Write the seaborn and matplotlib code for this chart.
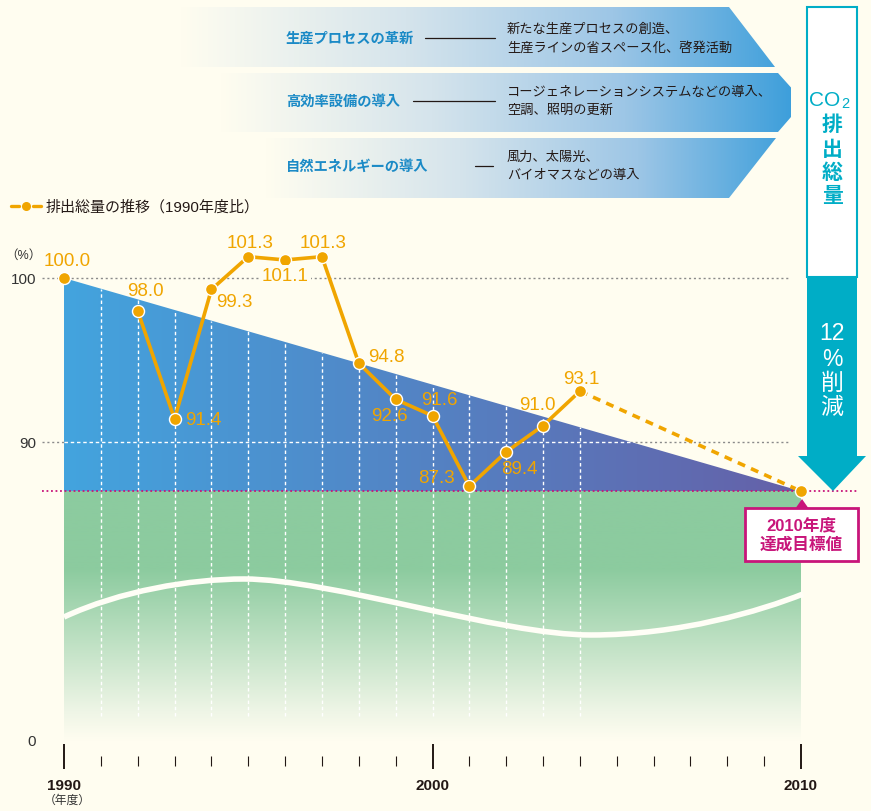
import numpy as np
import pandas as pd
import matplotlib
matplotlib.use('Agg')
import matplotlib.pyplot as plt
import seaborn as sns
from matplotlib.colors import LinearSegmentedColormap
from matplotlib.patches import Polygon, Rectangle, PathPatch
from matplotlib.path import Path

# CO2 emissions, 1990 = 100
years = [1990, 1991, 1992, 1993, 1994, 1995, 1996, 1997, 1998, 1999,
         2000, 2001, 2002, 2003, 2004]
emissions = [100.0, np.nan, 98.0, 91.4, 99.3, 101.3, 101.1, 101.3, 94.8, 92.6,
             91.6, 87.3, 89.4, 91.0, 93.1]
base_year, base_value = 1990, 100.0
target_year, target_value = 2010, 87.0
y_ticks = [90, 100]
x_major = [1990, 2000, 2010]

measures = ['生産プロセスの革新', '高効率設備の導入', '自然エネルギーの導入']
measure_notes = [
    ['新たな生産プロセスの創造、', '生産ラインの省スペース化、啓発活動'],
    ['コージェネレーションシステムなどの導入、', '空調、照明の更新'],
    ['風力、太陽光、', 'バイオマスなどの導入'],
]
legend_label = '排出総量の推移（1990年度比）'

# colours
CREAM = '#FFFDF0'
ORANGE = '#F0A500'
BLUE_L, BLUE_R = '#43A4DE', '#6560A8'
GREEN = '#8CCB9F'
MAGENTA = '#C8157A'
TEAL = '#00ADC6'
TEXT_BLUE = '#1B8AC6'
DARK = '#231815'

# label offsets in pixels (dx, dy up) for each point
label_offsets = [(3, 17), None, (8, 20), (29, 0), (23, -12), (2, 14), (0, -16),
                 (1, 14), (28, 7), (-6, -16), (7, 16), (-33, 9), (13, -17),
                 (-6, 21), (1, 13)]

sns.set_theme(style='white')
plt.rcParams['font.family'] = ['Liberation Sans', 'Noto Sans CJK JP', 'DejaVu Sans']

W, H = 871, 812
fig = plt.figure(figsize=(W / 100, H / 100), dpi=100, facecolor=CREAM)


def fig_rect(x0, y0, x1, y1):
    return [x0 / W, 1 - y1 / H, (x1 - x0) / W, (y1 - y0) / H]


ax = fig.add_axes(fig_rect(42, 230, 858, 745))
ax.set_facecolor('none')
px_year, px_unit = 36.85, 16.4
xlim = (1990 - 22 / px_year, 2010 + 57 / px_year)
ylim = (100 - 466 / px_unit, 100 + 49 / px_unit)
y_zero = 100 - 462 / px_unit      # axis break: "0" drawn at the bottom
green_bottom = 100 - 463 / px_unit

# blue wedge (1990 level sliding down to target)
grad = np.linspace(0, 1, 256).reshape(1, -1)
cmap_blue = LinearSegmentedColormap.from_list('blue', [BLUE_L, BLUE_R])
im = ax.imshow(grad, cmap=cmap_blue, aspect='auto', zorder=1,
               extent=(base_year, target_year, target_value, base_value))
wedge = Polygon([(base_year, base_value), (target_year, target_value),
                 (base_year, target_value)], closed=True, fc='none', ec='none')
ax.add_patch(wedge)
im.set_clip_path(wedge)

# green block under the target, fading out
cmap_green = LinearSegmentedColormap.from_list(
    'green', [(0, CREAM), (0.12, '#EEF5E6'), (0.69, GREEN), (1, GREEN)])
ax.imshow(np.linspace(0, 1, 256).reshape(-1, 1), cmap=cmap_green, aspect='auto',
          origin='lower', zorder=1,
          extent=(base_year, target_year, green_bottom, target_value))

# grid
slope = (target_value - base_value) / (target_year - base_year)
ax.hlines(y_ticks, xlim[0], 2009.7, colors='#8a8a8a', linestyles=(0, (1.5, 2)),
          lw=1, zorder=0.5)
x90 = base_year + (90 - base_value) / slope
ax.hlines(90, base_year, x90, colors='white', linestyles=(0, (2.5, 2)), lw=1, zorder=2)
for yr in range(1991, 2005):
    top = base_value + slope * (yr - base_year)
    ax.vlines(yr, green_bottom + 1.5, top, colors='white',
              linestyles=(0, (2.5, 2)), lw=1, zorder=2)
ax.axhline(target_value, color=MAGENTA, ls=(0, (1, 1.5)), lw=1.3, zorder=3)

# emissions line
df = pd.DataFrame({'year': years, 'value': emissions})
sns.lineplot(data=df[df['year'] >= 1992], x='year', y='value', color=ORANGE,
             lw=2.6, zorder=4, ax=ax)
sns.lineplot(x=[years[-1], target_year], y=[emissions[-1], target_value],
             color=ORANGE, lw=2.6, linestyle=(0, (2.2, 1.8)), zorder=4, ax=ax)
pts = pd.concat([df.dropna(), pd.DataFrame({'year': [target_year], 'value': [target_value]})])
sns.scatterplot(data=pts, x='year', y='value', color=ORANGE, s=75,
                edgecolor='white', linewidth=1, zorder=5, ax=ax)

for yr, v, off in zip(years, emissions, label_offsets):
    if off is None:
        continue
    bbox = None
    if yr == 1996:
        bbox = dict(boxstyle='square,pad=0.15', fc=CREAM, ec='none')
    ax.annotate(f'{v:.1f}', (yr, v), xytext=off, textcoords='offset pixels',
                ha='center', va='center', color=ORANGE, fontsize=13.5,
                bbox=bbox, zorder=6)

ax.set_xlim(*xlim)
ax.set_ylim(*ylim)
ax.set_xlabel('')
ax.set_ylabel('')
ax.spines['bottom'].set_position(('outward', 8.6))
for s in ax.spines.values():
    s.set_color('none')
ax.tick_params(axis='x', which='major', direction='inout', length=18, width=1.4,
               color=DARK, pad=7, bottom=True)
ax.tick_params(axis='x', which='minor', direction='out', length=7.2, width=0.8,
               color=DARK, bottom=True)
ax.tick_params(axis='y', length=0, pad=4.3)
ax.set_xticks(x_major)
ax.set_xticklabels([str(y) for y in x_major], fontweight='bold', fontsize=11,
                   color=DARK)
ax.set_xticks(range(1990, 2011), minor=True)
ax.set_yticks([y_zero] + y_ticks)
ax.set_yticklabels(['0'] + [str(t) for t in y_ticks], fontsize=11, color='#333333')

# decorations in pixel coordinates
ov = fig.add_axes([0, 0, 1, 1], zorder=5)
ov.axis('off')

# three measure banners forming a chevron
banner_polys = [
    [(180, 8), (729, 8), (775, 68), (180, 68)],
    [(220, 74), (778, 74), (804, 103), (778, 133), (220, 133)],
    [(265, 139), (776, 139), (729, 199), (265, 199)],
]
cmap_banner = LinearSegmentedColormap.from_list(
    'banner', [(0, CREAM), (0.37, '#D5E4EC'), (0.71, '#9DC6E6'), (1, '#3E9FDB')])
for poly in banner_polys:
    xs = [p[0] for p in poly]
    ys = [p[1] for p in poly]
    bim = ov.imshow(grad, cmap=cmap_banner, aspect='auto', zorder=1,
                    extent=(min(xs), 790, max(ys), min(ys)))
    patch = Polygon(poly, closed=True, fc='none', ec='none')
    ov.add_patch(patch)
    bim.set_clip_path(patch)

measure_y = [39, 102, 167]
connector_x = [(425, 495), (413, 495), (475, 493)]
for name, notes, y, (cx0, cx1) in zip(measures, measure_notes, measure_y, connector_x):
    ov.text(286, y, name, ha='left', va='center', fontsize=10.3,
            fontweight='bold', color=TEXT_BLUE, zorder=3)
    ov.plot([cx0, cx1], [y, y], color=DARK, lw=0.9, zorder=3)
    ov.text(507, y - 9, notes[0], ha='left', va='center', fontsize=9.5,
            color=DARK, zorder=3)
    ov.text(507, y + 9, notes[1], ha='left', va='center', fontsize=9.5,
            color=DARK, zorder=3)

# legend
ov.plot([11, 19], [207, 207], color=ORANGE, lw=2.4, zorder=3)
ov.plot([33, 41], [207, 207], color=ORANGE, lw=2.4, zorder=3)
ov.scatter([26], [207], s=30, color=ORANGE, zorder=4)
ov.text(46, 207, legend_label, ha='left', va='center', fontsize=10.8,
        color=DARK, zorder=3)
ov.text(23, 256, '（%）', ha='center', va='center', fontsize=9, color='#333333')
ov.text(67, 801, '（年度）', ha='center', va='center', fontsize=8.5, color='#333333')

# CO2 total arrow
ov.add_patch(Rectangle((807, 8), 50, 270, fc='white', ec=TEAL, lw=1.5, zorder=2))
ov.add_patch(Rectangle((807, 278), 50, 180, fc=TEAL, ec='none', zorder=2))
ov.add_patch(Polygon([(798, 457), (866, 457), (833, 492)], closed=True,
                     fc=TEAL, ec='none', zorder=2))
ov.text(825, 101, 'CO', ha='center', va='center', fontsize=15, color=TEAL, zorder=3)
ov.text(845, 104, '2', ha='center', va='center', fontsize=10.5, color=TEAL, zorder=3)
for ch, y in zip('排出総量', [125, 150, 173, 196]):
    ov.text(832, y, ch, ha='center', va='center', fontsize=15,
            fontweight='bold', color=TEAL, zorder=3)
for ch, y in zip(['12', '%', '削', '減'], [334, 360, 383, 407]):
    ov.text(832, y, ch, ha='center', va='center', fontsize=16.5,
            color='white', zorder=3)

# target box
ov.add_patch(Rectangle((745, 509), 113, 53, fc='white', ec=MAGENTA, lw=2, zorder=2))
ov.add_patch(Polygon([(795, 510), (809, 510), (802, 500)], closed=True,
                     fc=MAGENTA, ec='none', zorder=2))
ov.text(801, 526, '2010年度', ha='center', va='center', fontsize=12,
        fontweight='bold', color=MAGENTA, zorder=3)
ov.text(801, 545, '達成目標値', ha='center', va='center', fontsize=12,
        fontweight='bold', color=MAGENTA, zorder=3)

# decorative wave over the green block
wave = Path([(64, 618), (120, 592), (190, 580), (244, 580),
             (330, 580), (500, 636), (591, 636),
             (680, 636), (760, 612), (803, 595)],
            [Path.MOVETO, Path.CURVE4, Path.CURVE4, Path.CURVE4,
             Path.CURVE4, Path.CURVE4, Path.CURVE4,
             Path.CURVE4, Path.CURVE4, Path.CURVE4])
ov.add_patch(PathPatch(wave, fc='none', ec='#FFFEF6', lw=4, capstyle='butt', zorder=1))

ov.set_xlim(0, W)
ov.set_ylim(H, 0)

fig.savefig('out.png', dpi=100, facecolor=CREAM)
